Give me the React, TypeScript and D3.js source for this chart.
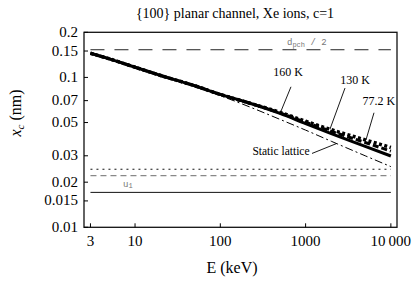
import React from "react";
import * as d3 from "d3";

const energies = [3, 5, 10, 20, 50, 100, 200, 500, 1000, 2000, 5000, 10000];
const staticLattice = [0.145, 0.133, 0.117, 0.103, 0.087, 0.0755, 0.065, 0.0525, 0.0445, 0.0375, 0.03, 0.0254];
const t160 = [0.145, 0.133, 0.117, 0.103, 0.088, 0.077, 0.0685, 0.0575, 0.0492, 0.0422, 0.0347, 0.0299];
const t130 = [0.145, 0.133, 0.117, 0.103, 0.088, 0.077, 0.0685, 0.058, 0.0502, 0.0437, 0.0368, 0.0322];
const t77 = [0.145, 0.133, 0.117, 0.103, 0.088, 0.077, 0.0685, 0.0585, 0.051, 0.0448, 0.0383, 0.0341];

const xTicks = [3, 10, 100, 1000, 10000];
const xTickLabels = ["3", "10", "100", "1000", "10\u2009000"];
const yTicks = [0.2, 0.15, 0.1, 0.07, 0.05, 0.03, 0.02, 0.015, 0.01];
const yTickLabels = ["0.2", "0.15", "0.1", "0.07", "0.05", "0.03", "0.02", "0.015", "0.01"];

const dpchHalf = 0.153;
const refDotted = 0.0244;
const refGrayDashed = 0.0221;
const u1 = 0.0171;

const tempLabels = [
  { text: "160 K", E: 622, v: 0.1028, E1: 674, v1: 0.0866, E2: 515, v2: 0.0596 },
  { text: "130 K", E: 3796, v: 0.0909, E1: 2897, v1: 0.0849, E2: 1932, v2: 0.0452 },
  { text: "77.2 K", E: 7250, v: 0.0654, E1: 6340, v1: 0.0581, E2: 5100, v2: 0.0382 },
];
const staticLabel = { text: "Static lattice", E: 515, v: 0.0303, E1: 1189, v1: 0.0311, E2: 2333, v2: 0.0363 };
const dpchLabelPos = { E: 605, v: 0.164 };
const u1LabelPos = { E: 7.23, v: 0.0186 };

const W = 418;
const H = 287;
const left = 84, right = 397, top = 32.3, bottom = 227.3;

const css = `
.serif { font-family: "Liberation Serif" !important; }
.mono { font-family: "Liberation Mono" !important; }
`;

export default function App() {
  const x = d3.scaleLog().domain([2.52, 11800]).range([left, right]);
  const y = d3.scaleLog().domain([0.01, 0.2]).range([bottom, top]);
  const line = (vals: number[]) =>
    d3.line<number>().x((_, i) => x(energies[i])).y((d) => y(d)).curve(d3.curveMonotoneX)(vals) || "";
  const x0 = x(energies[0]);
  const x1 = x(energies[energies.length - 1]);

  return (
    <svg width={W} height={H} style={{ position: "fixed", left: 0, top: 0, background: "#fff" }}>
      <style>{css}</style>
      <rect x={0} y={0} width={W} height={H} fill="#fff" />
      <text className="serif" x={235} y={18} textAnchor="middle" fontSize={14}>{"{100} planar channel, Xe ions, c=1"}</text>

      {/* reference horizontal lines */}
      <line x1={x0} x2={x1} y1={y(dpchHalf)} y2={y(dpchHalf)} stroke="#222" strokeWidth={1} strokeDasharray="14,10" />
      <line x1={x0} x2={x1} y1={y(refDotted)} y2={y(refDotted)} stroke="#111" strokeWidth={1} strokeDasharray="2,4" />
      <line x1={x0} x2={x1} y1={y(refGrayDashed)} y2={y(refGrayDashed)} stroke="#888" strokeWidth={1.3} strokeDasharray="6,4" />
      <line x1={x0} x2={x1} y1={y(u1)} y2={y(u1)} stroke="#111" strokeWidth={1} />

      <text className="mono" x={x(dpchLabelPos.E)} y={y(dpchLabelPos.v)} fontSize={9} fill="#777">
        d<tspan fontSize={7} dy={1.5}>pch</tspan><tspan dy={-1.5}>{" / 2"}</tspan>
      </text>
      <text className="mono" x={x(u1LabelPos.E)} y={y(u1LabelPos.v)} fontSize={9} fill="#777">
        u<tspan fontSize={7} dy={1.5}>1</tspan>
      </text>

      {/* curves */}
      <path d={line(staticLattice)} fill="none" stroke="#000" strokeWidth={1} strokeDasharray="8,3,2,3" />
      <path d={line(t160)} fill="none" stroke="#000" strokeWidth={3} />
      <path d={line(t130)} fill="none" stroke="#000" strokeWidth={3} strokeDasharray="6,3" />
      <path d={line(t77)} fill="none" stroke="#000" strokeWidth={3.5} strokeDasharray="3,2.5" />

      {/* annotations */}
      {tempLabels.map((a) => (
        <g key={a.text}>
          <text className="serif" x={x(a.E)} y={y(a.v)} textAnchor="middle" fontSize={12}>{a.text}</text>
          <line x1={x(a.E1)} y1={y(a.v1)} x2={x(a.E2)} y2={y(a.v2)} stroke="#000" strokeWidth={0.9} />
        </g>
      ))}
      <text className="serif" x={x(staticLabel.E)} y={y(staticLabel.v)} textAnchor="middle" fontSize={11.5}>{staticLabel.text}</text>
      <line x1={x(staticLabel.E1)} y1={y(staticLabel.v1)} x2={x(staticLabel.E2)} y2={y(staticLabel.v2)} stroke="#000" strokeWidth={0.9} />

      {/* frame */}
      <rect x={left} y={top} width={right - left} height={bottom - top} fill="none" stroke="#111" strokeWidth={1.3} />

      {/* ticks */}
      {xTicks.map((t, i) => (
        <g key={"x" + t}>
          <line x1={x(t)} x2={x(t)} y1={bottom} y2={bottom - 4} stroke="#000" strokeWidth={1} />
          <text className="serif" x={x(t)} y={246} textAnchor="middle" fontSize={15}>{xTickLabels[i]}</text>
        </g>
      ))}
      {yTicks.map((t, i) => (
        <g key={"y" + t}>
          <line x1={left} x2={left + 4} y1={y(t)} y2={y(t)} stroke="#000" strokeWidth={1} />
          <text className="serif" x={78} y={y(t) + 4.5} textAnchor="end" fontSize={15}>{yTickLabels[i]}</text>
        </g>
      ))}

      <text className="serif" x={232} y={273} textAnchor="middle" fontSize={16}>E (keV)</text>
      <text className="serif" transform={`translate(21,113) rotate(-90)`} textAnchor="middle" fontSize={16}>
        <tspan fontStyle="italic">x</tspan><tspan fontStyle="italic" fontSize={11} dy={3}>c</tspan><tspan dy={-3}>{" (nm)"}</tspan>
      </text>
    </svg>
  );
}
